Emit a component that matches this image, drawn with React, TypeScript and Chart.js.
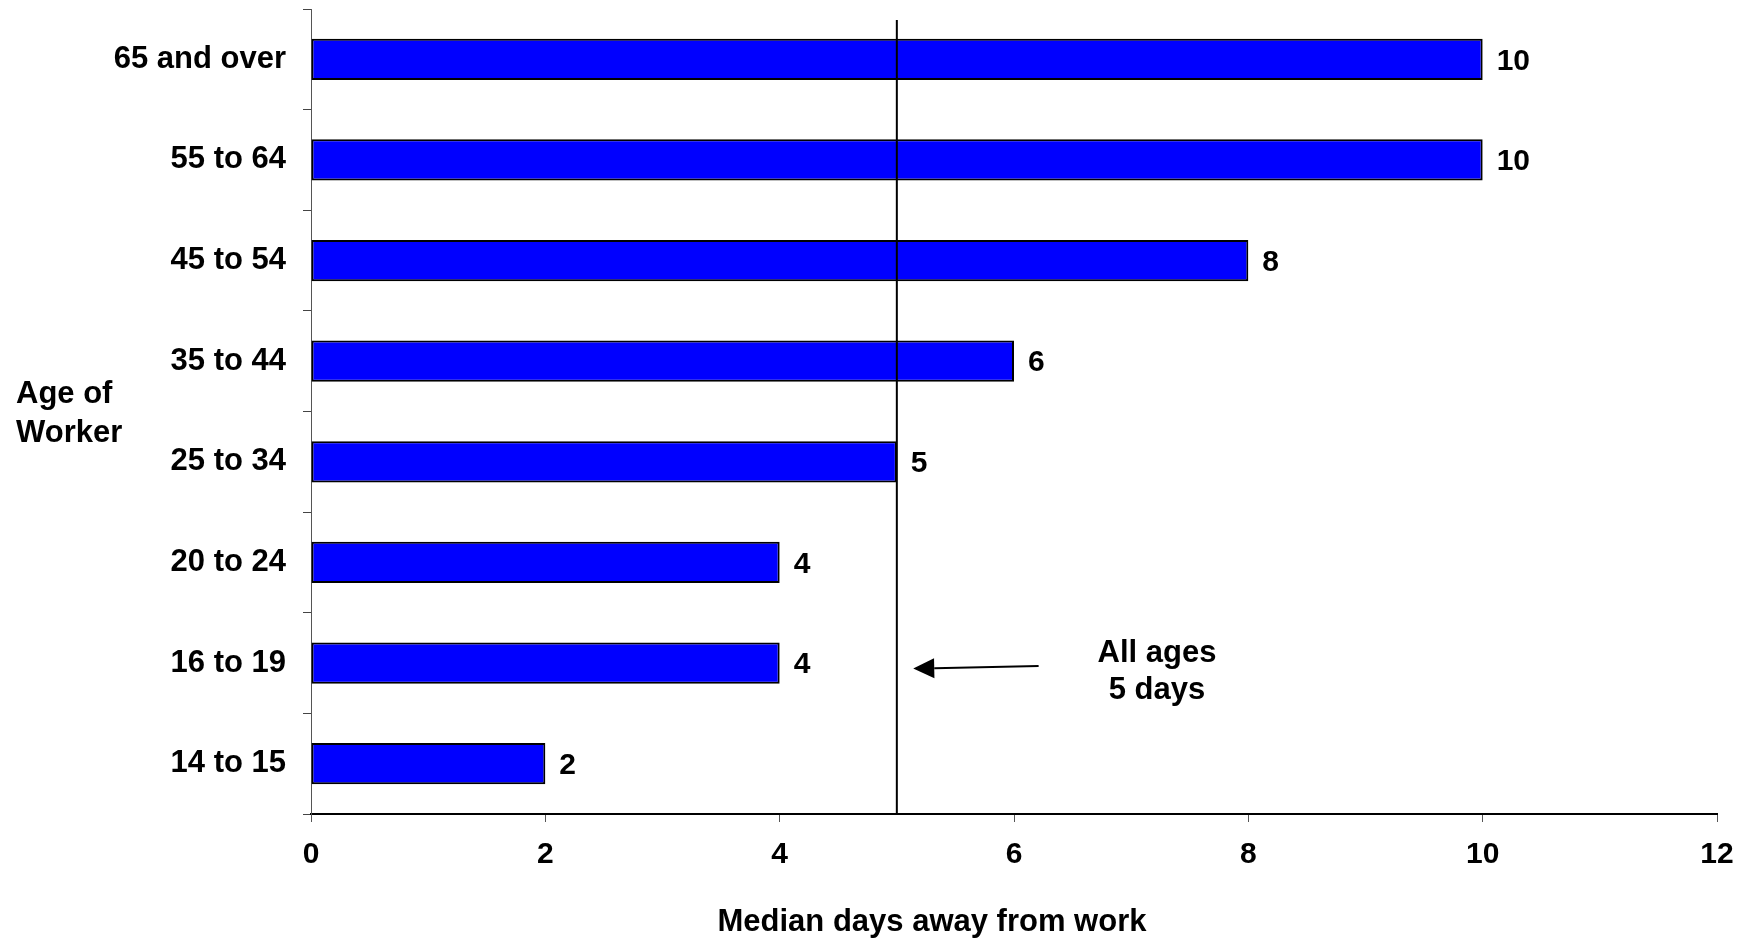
import React, { useEffect, useRef } from 'react';
import { Chart, registerables } from 'chart.js';

Chart.register(...registerables);

const categories = ['65 and over', '55 to 64', '45 to 54', '35 to 44', '25 to 34', '20 to 24', '16 to 19', '14 to 15'];
const medianDays = [10, 10, 8, 6, 5, 4, 4, 2];
const allAgesMedian = 5;
const axisMin = 0;
const axisMax = 12;
const tickStep = 2;
const xTitle = 'Median days away from work';
const yTitleLines = ['Age of', 'Worker'];
const noteLines = ['All ages', '5 days'];

const FONT = '"Liberation Sans", Arial, Helvetica, sans-serif';

const overlay = {
  id: 'overlay',
  afterDatasetsDraw(chart: any) {
    const { ctx, chartArea, scales } = chart;
    const x = scales.x;
    const y = scales.y;
    ctx.save();
    ctx.fillStyle = '#000';

    // value labels
    ctx.font = `bold 30px ${FONT}`;
    ctx.textAlign = 'left';
    ctx.textBaseline = 'middle';
    const meta = chart.getDatasetMeta(0);
    meta.data.forEach((bar: any, i: number) => {
      ctx.fillText(String(medianDays[i]), bar.x + 14, bar.y + 2);
    });

    // reference line at all-ages median
    const lx = x.getPixelForValue(allAgesMedian);
    ctx.strokeStyle = '#000';
    ctx.lineWidth = 2;
    ctx.beginPath();
    ctx.moveTo(lx, y.getPixelForValue(-0.39));
    ctx.lineTo(lx, chartArea.bottom);
    ctx.stroke();

    // arrow
    const tx = x.getPixelForValue(6.21);
    const ty = y.getPixelForValue(6.03);
    const hx = x.getPixelForValue(5.14);
    const hy = y.getPixelForValue(6.055);
    const ang = Math.atan2(hy - ty, hx - tx);
    const headLen = 21;
    const headHalf = 10;
    const bx = hx - headLen * Math.cos(ang);
    const by = hy - headLen * Math.sin(ang);
    ctx.beginPath();
    ctx.moveTo(tx, ty);
    ctx.lineTo(bx, by);
    ctx.stroke();
    ctx.beginPath();
    ctx.moveTo(hx, hy);
    ctx.lineTo(bx - headHalf * Math.sin(ang), by + headHalf * Math.cos(ang));
    ctx.lineTo(bx + headHalf * Math.sin(ang), by - headHalf * Math.cos(ang));
    ctx.closePath();
    ctx.fill();

    // note text
    ctx.font = `bold 31px ${FONT}`;
    ctx.textAlign = 'center';
    ctx.textBaseline = 'alphabetic';
    const nx = x.getPixelForValue(7.22);
    ctx.fillText(noteLines[0], nx, y.getPixelForValue(5.99));
    ctx.fillText(noteLines[1], nx, y.getPixelForValue(6.36));

    // x axis title
    ctx.fillText(xTitle, x.getPixelForValue(5.3), chartArea.bottom + 117);

    // y axis title
    ctx.textAlign = 'left';
    const mid = (chartArea.top + chartArea.bottom) / 2;
    ctx.fillText(yTitleLines[0], 16, mid - 9);
    ctx.fillText(yTitleLines[1], 16, mid + 30);

    ctx.restore();
  },
};

export default function App() {
  const ref = useRef<HTMLCanvasElement | null>(null);

  useEffect(() => {
    if (!ref.current) return;
    const chart = new Chart(ref.current, {
      type: 'bar',
      data: {
        labels: categories,
        datasets: [
          {
            data: medianDays,
            backgroundColor: '#0000FF',
            borderColor: '#000000',
            borderWidth: 2,
            borderSkipped: false,
            barPercentage: 0.41,
            categoryPercentage: 1,
          },
        ],
      },
      options: {
        indexAxis: 'y',
        responsive: false,
        animation: false,
        layout: { autoPadding: false, padding: { top: 9, right: 35, left: 0, bottom: 0 } },
        plugins: {
          legend: { display: false },
          tooltip: { enabled: false },
          title: { display: false },
        },
        scales: {
          x: {
            type: 'linear',
            min: axisMin,
            max: axisMax,
            ticks: {
              stepSize: tickStep,
              color: '#000',
              padding: 15,
              font: { family: FONT, size: 30, weight: 'bold' },
            },
            grid: { drawOnChartArea: false, tickLength: 8, color: '#555', lineWidth: 1 },
            border: { color: '#000', width: 2 },
            afterFit: (s: any) => {
              s.height = 125;
              s.paddingLeft = 0;
              s.paddingRight = 0;
            },
          },
          y: {
            type: 'category',
            ticks: {
              color: '#000',
              padding: 17,
              font: { family: FONT, size: 31, weight: 'bold', lineHeight: 0.4 },
            },
            grid: { drawOnChartArea: false, tickLength: 8, color: '#444', lineWidth: 1, offset: true },
            border: { color: '#555', width: 1 },
            afterFit: (s: any) => {
              s.width = 311;
              s.paddingTop = 0;
              s.paddingBottom = 0;
            },
          },
        },
      },
      plugins: [overlay],
    });
    return () => chart.destroy();
  }, []);

  return (
    <div style={{ position: 'fixed', left: 0, top: 0, width: 1752, height: 939, background: '#fff' }}>
      <canvas ref={ref} width={1752} height={939} style={{ display: 'block' }} />
    </div>
  );
}
